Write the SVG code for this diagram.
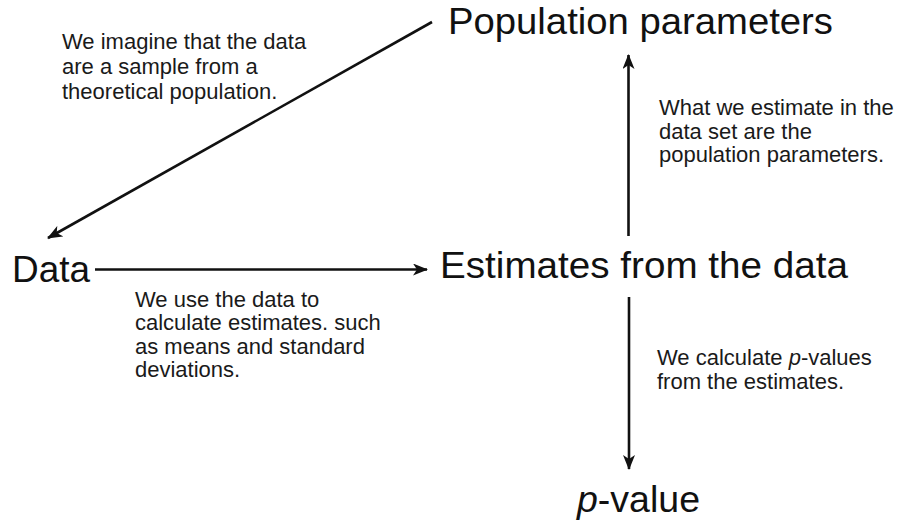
<svg xmlns="http://www.w3.org/2000/svg" width="904" height="525" viewBox="0 0 904 525">
  <style>
    .node { font-family: "Liberation Sans", Arial, Helvetica, sans-serif; font-size: 37px; fill: #111; }
    .note { font-family: "Liberation Sans", Arial, Helvetica, sans-serif; font-size: 22px; fill: #1a1a1a; }
    .it { font-style: italic; }
    .edge { stroke: #111; stroke-width: 2.6; fill: none; }
  </style>
  <defs>
    <marker id="head" viewBox="0 0 15 12" refX="14" refY="6" markerWidth="15" markerHeight="12" markerUnits="userSpaceOnUse" orient="auto">
      <path d="M0,0 L15,6 L0,12 L4,6 Z" fill="#111"/>
    </marker>
  </defs>
  <rect width="904" height="525" fill="#fff"/>

  <g id="connectors">
    <line class="edge" x1="432" y1="22" x2="48" y2="238" marker-end="url(#head)"/>
    <line class="edge" x1="95" y1="269.5" x2="427" y2="269.5" marker-end="url(#head)"/>
    <line class="edge" x1="628.5" y1="236" x2="628.5" y2="55" marker-end="url(#head)"/>
    <line class="edge" x1="629" y1="297" x2="629" y2="469" marker-end="url(#head)"/>
  </g>

  <g id="population">
    <text class="node" x="448" y="34" textLength="385" lengthAdjust="spacingAndGlyphs">Population parameters</text>
  </g>
  <g id="data">
    <text class="node" x="12" y="281.5" textLength="78" lengthAdjust="spacingAndGlyphs">Data</text>
  </g>
  <g id="estimates">
    <text class="node" x="440" y="278" textLength="408" lengthAdjust="spacingAndGlyphs">Estimates from the data</text>
  </g>
  <g id="pvalue">
    <text class="node" x="577" y="511.5" style="font-size:37.5px"><tspan class="it">p</tspan>-value</text>
  </g>

  <g id="notes">
    <text class="note" x="62" y="48.5">We imagine that the data</text>
    <text class="note" x="62" y="73.5">are a sample from a</text>
    <text class="note" x="62" y="98.5">theoretical population.</text>

    <text class="note" x="659" y="115">What we estimate in the</text>
    <text class="note" x="659" y="138.5">data set are the</text>
    <text class="note" x="659" y="162">population parameters.</text>

    <text class="note" x="135" y="306.5">We use the data to</text>
    <text class="note" x="135" y="330">calculate estimates. such</text>
    <text class="note" x="135" y="353.5">as means and standard</text>
    <text class="note" x="135" y="377">deviations.</text>

    <text class="note" x="657" y="365">We calculate <tspan class="it">p</tspan>-values</text>
    <text class="note" x="657" y="388.5">from the estimates.</text>
  </g>
</svg>
